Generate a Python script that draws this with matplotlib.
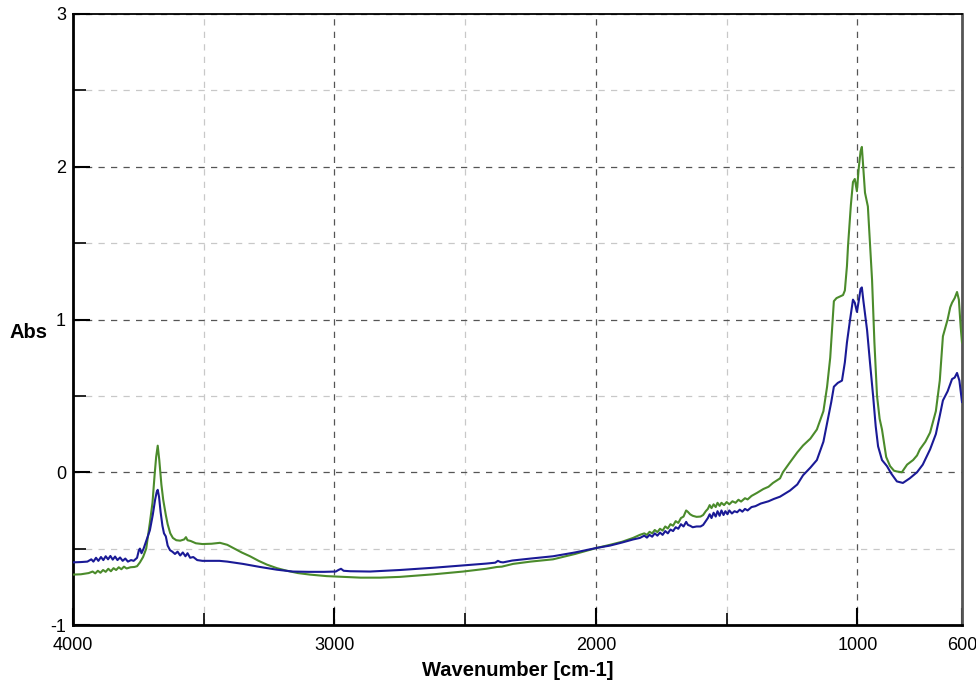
import matplotlib
matplotlib.use("Agg")
import matplotlib.pyplot as plt
from matplotlib.ticker import FixedLocator

plt.rcParams['font.family'] = ['Liberation Sans', 'DejaVu Sans']

# Spectrum 1 (blue): wavenumber [cm-1] and absorbance
wn_blue = [4000, 3970, 3945, 3930, 3922, 3912, 3903, 3893, 3884, 3875, 3866, 3857,
           3848, 3839, 3830, 3820, 3810, 3800, 3790, 3778, 3768, 3755, 3748, 3744,
           3738, 3730, 3720, 3706, 3695, 3686, 3680, 3676, 3671, 3665, 3658, 3652,
           3645, 3638, 3629, 3620, 3610, 3600, 3590, 3580, 3570, 3562, 3552, 3540,
           3525, 3505, 3470, 3440, 3410, 3350, 3285, 3220, 3160, 3100, 3040, 2995,
           2985, 2975, 2965, 2940, 2864, 2750, 2620, 2508, 2420, 2385, 2375, 2365,
           2355, 2340, 2320, 2250, 2164, 2080, 1996, 1946, 1900, 1858, 1832, 1815,
           1805, 1795, 1785, 1775, 1765, 1755, 1745, 1735, 1725, 1715, 1705, 1695,
           1685, 1675, 1665, 1655, 1648, 1640, 1630, 1615, 1600, 1590, 1580, 1572,
           1565, 1558, 1550, 1542, 1535, 1527, 1520, 1512, 1505, 1497, 1490, 1480,
           1470, 1460, 1450, 1440, 1430, 1420, 1405, 1390, 1370, 1340, 1320, 1296,
           1258, 1230, 1208, 1180, 1155, 1130, 1116, 1100, 1090, 1075, 1059, 1048,
           1040, 1028, 1017, 1010, 1002, 995, 988, 983, 977, 971, 963, 952,
           940, 930, 921, 906, 887, 870, 849, 826, 800, 772, 750, 722,
           700, 685, 673, 655, 638, 628, 619, 610, 600]
abs_blue = [-0.590, -0.588, -0.585, -0.570, -0.585, -0.560, -0.580, -0.555, -0.575, -0.550, -0.570, -0.548,
            -0.572, -0.552, -0.575, -0.558, -0.580, -0.565, -0.585, -0.575, -0.580, -0.560, -0.510, -0.500,
            -0.530, -0.500, -0.450, -0.380, -0.280, -0.180, -0.130, -0.115, -0.160, -0.260, -0.350, -0.400,
            -0.420, -0.480, -0.510, -0.520, -0.535, -0.520, -0.545, -0.525, -0.550, -0.530, -0.560, -0.555,
            -0.575, -0.580, -0.580, -0.580, -0.585, -0.600, -0.620, -0.638, -0.650, -0.652, -0.652, -0.650,
            -0.640, -0.632, -0.645, -0.648, -0.650, -0.640, -0.625, -0.610, -0.598, -0.592, -0.580, -0.588,
            -0.590, -0.585, -0.578, -0.565, -0.550, -0.525, -0.495, -0.480, -0.460, -0.440, -0.430, -0.415,
            -0.428, -0.410, -0.422, -0.400, -0.415, -0.395, -0.410, -0.385, -0.400, -0.375, -0.385, -0.360,
            -0.370, -0.340, -0.355, -0.325, -0.345, -0.350, -0.360, -0.355, -0.355, -0.345, -0.320, -0.300,
            -0.275, -0.300, -0.265, -0.290, -0.255, -0.285, -0.250, -0.280, -0.255, -0.275, -0.250, -0.270,
            -0.255, -0.262, -0.245, -0.258, -0.240, -0.250, -0.228, -0.222, -0.205, -0.190, -0.175, -0.160,
            -0.120, -0.080, -0.020, 0.030, 0.080, 0.200, 0.320, 0.460, 0.560, 0.585, 0.600, 0.720,
            0.850, 1.000, 1.130, 1.110, 1.050, 1.120, 1.200, 1.210, 1.120, 1.040, 0.930, 0.720,
            0.500, 0.300, 0.170, 0.080, 0.040, -0.010, -0.060, -0.070, -0.040, 0.000, 0.050, 0.150,
            0.250, 0.370, 0.470, 0.530, 0.610, 0.620, 0.650, 0.600, 0.460]

# Spectrum 2 (green)
wn_green = [4000, 3970, 3940, 3925, 3915, 3905, 3895, 3885, 3875, 3865, 3855, 3845,
            3835, 3825, 3815, 3805, 3795, 3780, 3765, 3755, 3744, 3732, 3720, 3706,
            3696, 3688, 3682, 3676, 3670, 3662, 3655, 3645, 3638, 3628, 3618, 3605,
            3590, 3575, 3568, 3562, 3550, 3530, 3505, 3470, 3438, 3410, 3388, 3355,
            3323, 3290, 3258, 3220, 3182, 3140, 3094, 3030, 2967, 2900, 2826, 2750,
            2620, 2508, 2420, 2378, 2360, 2317, 2250, 2164, 2080, 1996, 1946, 1900,
            1858, 1832, 1815, 1805, 1795, 1785, 1775, 1765, 1755, 1745, 1735, 1725,
            1715, 1705, 1695, 1685, 1675, 1665, 1655, 1648, 1640, 1630, 1615, 1600,
            1590, 1580, 1572, 1565, 1558, 1550, 1542, 1535, 1527, 1520, 1510, 1500,
            1490, 1478, 1466, 1455, 1445, 1430, 1420, 1405, 1384, 1360, 1340, 1323,
            1296, 1285, 1260, 1230, 1208, 1180, 1155, 1130, 1116, 1104, 1097, 1090,
            1080, 1067, 1055, 1048, 1040, 1036, 1025, 1017, 1010, 1002, 995, 988,
            983, 977, 971, 966, 960, 952, 944, 935, 925, 915, 906, 890,
            875, 860, 849, 830, 810, 787, 772, 761, 740, 722, 700, 685,
            673, 655, 645, 638, 628, 619, 612, 605, 600]
abs_green = [-0.670, -0.668, -0.660, -0.650, -0.662, -0.645, -0.658, -0.640, -0.652, -0.632, -0.648, -0.628,
             -0.640, -0.622, -0.635, -0.618, -0.630, -0.622, -0.620, -0.615, -0.590, -0.555, -0.500, -0.330,
             -0.200, -0.020, 0.100, 0.174, 0.080, -0.080, -0.180, -0.280, -0.340, -0.400, -0.430, -0.445,
             -0.448, -0.440, -0.425, -0.445, -0.450, -0.465, -0.470, -0.468, -0.462, -0.475, -0.495, -0.525,
             -0.550, -0.580, -0.605, -0.628, -0.645, -0.660, -0.670, -0.680, -0.685, -0.690, -0.690, -0.685,
             -0.668, -0.650, -0.632, -0.620, -0.618, -0.600, -0.585, -0.570, -0.535, -0.495, -0.475, -0.455,
             -0.430, -0.410, -0.400, -0.410, -0.390, -0.400, -0.378, -0.392, -0.370, -0.382, -0.355, -0.368,
             -0.340, -0.350, -0.320, -0.332, -0.300, -0.290, -0.250, -0.260, -0.275, -0.285, -0.292, -0.290,
             -0.280, -0.255, -0.240, -0.215, -0.235, -0.210, -0.228, -0.200, -0.220, -0.200, -0.215, -0.195,
             -0.210, -0.190, -0.200, -0.180, -0.192, -0.170, -0.178, -0.155, -0.135, -0.110, -0.095, -0.070,
             -0.040, 0.000, 0.060, 0.130, 0.175, 0.220, 0.280, 0.400, 0.560, 0.750, 0.930, 1.120,
             1.140, 1.150, 1.160, 1.190, 1.350, 1.480, 1.750, 1.900, 1.920, 1.840, 1.990, 2.100,
             2.130, 1.980, 1.830, 1.790, 1.740, 1.500, 1.260, 0.850, 0.500, 0.350, 0.280, 0.100,
             0.040, 0.010, 0.005, 0.000, 0.050, 0.080, 0.110, 0.150, 0.200, 0.260, 0.400, 0.600,
             0.890, 1.000, 1.080, 1.110, 1.140, 1.180, 1.130, 0.950, 0.850]

x_major = [4000, 3000, 2000, 1000, 600]
x_minor = [3500, 2500, 1500]
y_major = [-1, 0, 1, 2, 3]
y_minor = [-0.5, 0.5, 1.5, 2.5]

fig = plt.figure(figsize=(9.76, 6.82), dpi=100)
ax = fig.add_axes([73 / 976, 1 - 625 / 682, (962 - 73) / 976, (625 - 14) / 682])

ax.plot(wn_green, abs_green, color='#4b8b2b', lw=1.5, zorder=3)
ax.plot(wn_blue, abs_blue, color='#1a1a96', lw=1.5, zorder=4)

ax.set_xlim(4000, 600)
ax.set_ylim(-1, 3)

ax.xaxis.set_major_locator(FixedLocator(x_major))
ax.xaxis.set_minor_locator(FixedLocator(x_minor))
ax.yaxis.set_major_locator(FixedLocator(y_major))
ax.yaxis.set_minor_locator(FixedLocator(y_minor))
ax.set_xticklabels([str(v) for v in x_major])
ax.set_yticklabels([str(v) for v in y_major])

ax.tick_params(which='major', direction='in', length=12, width=1.5, labelsize=13, pad=9)
ax.tick_params(which='minor', direction='in', length=9, width=1.2)
ax.tick_params(axis='y', which='major', pad=5)

ax.grid(True, which='major', color='#555555', linestyle=(0, (5, 5)), linewidth=0.9)
ax.grid(True, which='minor', color='#c8c8c8', linestyle=(0, (5, 5)), linewidth=0.9)
ax.set_axisbelow(True)

for side in ['left', 'bottom']:
    ax.spines[side].set_linewidth(2.0)
ax.spines['top'].set_linewidth(1.3)
ax.spines['right'].set_linewidth(2.0)
ax.spines['right'].set_color('#555555')

ax.set_xlabel('Wavenumber [cm-1]', fontsize=14.5, fontweight='bold', labelpad=5)
fig.text(29 / 976, 1 - 332 / 682, 'Abs', fontsize=14.5, fontweight='bold',
         ha='center', va='center')

fig.savefig('out.png', dpi=100)
